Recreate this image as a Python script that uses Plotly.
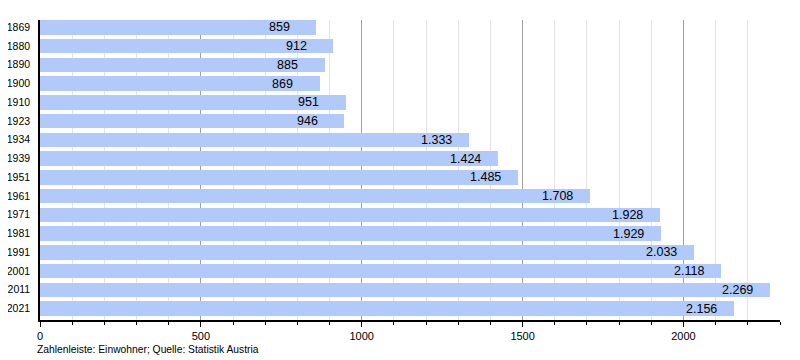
import plotly.graph_objects as go

years = ["1869", "1880", "1890", "1900", "1910", "1923", "1934", "1939", "1951",
         "1961", "1971", "1981", "1991", "2001", "2011", "2021"]
population = [859, 912, 885, 869, 951, 946, 1333, 1424, 1485, 1708, 1928, 1929,
              2033, 2118, 2269, 2156]
value_labels = ["859", "912", "885", "869", "951", "946", "1.333", "1.424", "1.485",
                "1.708", "1.928", "1.929", "2.033", "2.118", "2.269", "2.156"]
x_tickvals = [0, 500, 1000, 1500, 2000]
footer = "Zahlenleiste: Einwohner; Quelle: Statistik Austria"

FONT = "Liberation Sans, Arial, sans-serif"
LABEL_OFFSET = 155

fig = go.Figure()
fig.add_trace(go.Bar(
    x=population, y=list(range(len(years))), orientation="h",
    marker=dict(color="rgb(178,202,250)", line=dict(width=0)),
    width=0.78, hoverinfo="x+y",
))

for i, (v, lab) in enumerate(zip(population, value_labels)):
    fig.add_annotation(x=v - LABEL_OFFSET, y=i, text=lab, xanchor="left", yanchor="middle",
                       showarrow=False, font=dict(family=FONT, size=12.5, color="black"))

fig.add_annotation(xref="paper", yref="paper",
                   x=(35 - 40) / 740, y=-(349 - 320) / 300,
                   xanchor="left", yanchor="middle", text=footer, showarrow=False,
                   font=dict(family=FONT, size=10.3, color="black"))

# page body has an 8px default margin; compensate so the plot area sits at x 40-780, y 20-320
fig.update_layout(
    width=792, height=352,
    margin=dict(l=32, r=20, t=12, b=40, autoexpand=False),
    paper_bgcolor="white", plot_bgcolor="white",
    showlegend=False, bargap=0,
    font=dict(family=FONT, size=11, color="black"),
    xaxis=dict(
        range=[0, 2300], tickvals=x_tickvals, ticktext=[str(v) for v in x_tickvals],
        showgrid=True, gridcolor="#a0a0a0", gridwidth=1,
        ticks="outside", ticklen=5, tickcolor="black", tickwidth=1,
        showline=True, linecolor="black", linewidth=1.5,
        zeroline=False, tickfont=dict(size=11), automargin=False,
        minor=dict(dtick=100, tick0=0, showgrid=True, gridcolor="#e4e4e4",
                   ticks="outside", ticklen=3, tickcolor="black"),
    ),
    yaxis=dict(
        range=[len(years) - 0.5 + 0.11, -0.5 + 0.11],
        tickvals=list(range(len(years))), ticktext=years,
        showgrid=False, zeroline=False, ticks="",
        showline=True, linecolor="black", linewidth=1.5,
        tickfont=dict(size=10.5), ticklabelstandoff=6, automargin=False,
    ),
)

fig.write_html("out.html")
